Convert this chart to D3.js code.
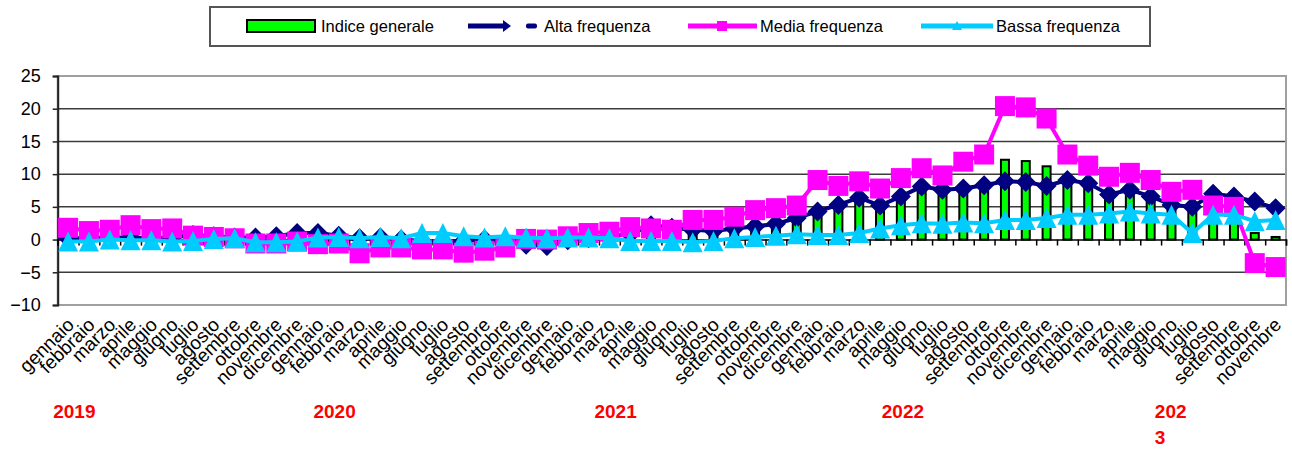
<!DOCTYPE html>
<html>
<head>
<meta charset="utf-8">
<script src="https://cdn.jsdelivr.net/npm/d3@7"></script>
<style>
  body { margin: 0; background: #fff; }
  text { font-family: "Liberation Sans", Arial, sans-serif; }
</style>
</head>
<body>
<svg id="chart" width="1292" height="450"></svg>
<script>
// month names and years on the x axis (gennaio 2019 .. novembre 2023)
const monthNames = ["gennaio", "febbraio", "marzo", "aprile", "maggio", "giugno",
  "luglio", "agosto", "settembre", "ottobre", "novembre", "dicembre"];
const years = ["2019", "2020", "2021", "2022", "2023"];
const yearAt = [0.8, 13.3, 26.8, 40.6, 52.7]; // position of each year label, in months
const yTicks = [-10, -5, 0, 5, 10, 15, 20, 25];

const indiceGenerale = [
  1.0, 1.1, 1.0, 1.1, 0.9, 0.8, 0.5, 0.5, 0.4, 0.3, 0.2, 0.5,
  0.6, 0.3, 0.1, 0.0, -0.2, -0.2, -0.4, -0.5, -0.6, -0.3, -0.2, -0.2,
  0.4, 0.6, 0.8, 1.1, 1.3, 1.3, 1.5, 1.3, 2.0, 2.7, 3.0, 3.4,
  3.8, 5.0, 6.2, 4.6, 6.2, 8.4, 8.3, 7.2, 8.4, 12.2, 12.0, 11.2,
  9.1, 8.3, 6.7, 7.8, 6.7, 5.3, 5.0, 6.6, 6.0, 1.0, 0.4
];
const altaFrequenza = [
  0.2, 0.2, 0.3, 0.3, 0.2, 0.3, 0.7, 0.5, 0.3, 0.3, 0.5, 1.0,
  1.0, 0.6, 0.2, 0.3, 0.0, -0.2, -0.3, -0.2, 0.0, -0.3, -0.8, -1.0,
  -0.1, 0.2, 0.5, 0.8, 2.2, 1.8, 1.5, 1.3, 1.7, 2.0, 2.4, 3.3,
  4.3, 5.3, 6.4, 5.2, 6.6, 8.1, 7.6, 7.8, 8.3, 8.9, 8.8, 8.2,
  9.1, 8.6, 6.9, 7.6, 6.6, 5.3, 5.0, 7.0, 6.6, 5.8, 4.8
];
const mediaFrequenza = [
  1.8, 1.3, 1.5, 2.2, 1.6, 1.7, 0.6, 0.4, 0.2, -0.6, -0.6, -0.3,
  -0.7, -0.6, -2.1, -1.2, -1.2, -1.5, -1.5, -2.0, -1.7, -1.2, 0.1, 0.0,
  0.5, 1.0, 1.2, 1.9, 1.7, 1.5, 3.0, 3.0, 3.5, 4.5, 4.8, 5.2,
  9.1, 8.2, 8.9, 7.8, 9.4, 10.9, 9.8, 11.9, 13.0, 20.4, 20.2, 18.5,
  13.0, 11.3, 9.6, 10.2, 9.1, 7.3, 7.6, 5.2, 5.0, -3.6, -4.2
];
const bassaFrequenza = [
  -0.3, -0.3, 0.0, -0.1, -0.1, -0.3, -0.2, 0.1, 0.2, -0.4, -0.4, -0.3,
  0.3, 0.4, 0.2, 0.4, 0.2, 1.0, 1.0, 0.5, 0.3, 0.5, 0.3, 0.2,
  0.3, 0.3, 0.2, -0.2, -0.2, -0.2, -0.4, -0.2, 0.2, 0.4, 0.6, 0.8,
  0.7, 0.7, 1.0, 1.7, 2.2, 2.5, 2.4, 2.6, 2.5, 3.0, 3.0, 3.3,
  3.8, 3.8, 4.0, 4.3, 4.0, 3.8, 1.0, 3.8, 3.8, 2.8, 3.0
];

const n = indiceGenerale.length;
const labels = d3.range(n).map((i) => monthNames[i % 12]);

const svg = d3.select("#chart");
const plotLeft = 57.7, plotRight = 1286, plotTop = 76, plotBottom = 305;

const x = d3.scaleBand().domain(d3.range(n)).range([plotLeft, plotRight]);
const xEdge = d3.scaleLinear().domain([0, n]).range([plotLeft, plotRight]);
const y = d3.scaleLinear().domain([-10, 25]).range([plotBottom, plotTop]);
const bw = x.bandwidth();
const cx = (i) => x(i) + bw / 2;

// gridlines
svg.append("g")
  .selectAll("line")
  .data(yTicks.filter((t) => t > -10 && t < 25 && t !== 0))
  .enter()
  .append("line")
  .attr("x1", plotLeft).attr("x2", plotRight)
  .attr("y1", (d) => y(d)).attr("y2", (d) => y(d))
  .attr("stroke", "#3c3c3c")
  .attr("stroke-width", 1.5);

// plot border
svg.append("rect")
  .attr("x", plotLeft).attr("y", plotTop)
  .attr("width", plotRight - plotLeft).attr("height", plotBottom - plotTop)
  .attr("fill", "none")
  .attr("stroke", "#a0a0a0")
  .attr("stroke-width", 2);

// y axis
const yAxis = svg.append("g")
  .attr("transform", `translate(${plotLeft},0)`)
  .call(d3.axisLeft(y).tickValues(yTicks).tickSize(5).tickPadding(12));
yAxis.select(".domain").attr("stroke", "#222").attr("stroke-width", 2);
yAxis.selectAll(".tick line").attr("stroke", "#222").attr("stroke-width", 1.5);
yAxis.selectAll(".tick text")
  .attr("font-size", 18)
  .attr("font-family", "Liberation Sans, Arial, sans-serif")
  .attr("fill", "#000");

// bars: Indice generale
svg.append("g")
  .selectAll("rect")
  .data(indiceGenerale)
  .enter()
  .append("rect")
  .attr("x", (d, i) => cx(i) - 4)
  .attr("width", 8)
  .attr("y", (d) => y(Math.max(0, d)))
  .attr("height", (d) => Math.abs(y(d) - y(0)))
  .attr("fill", "#00ff00")
  .attr("stroke", "#000")
  .attr("stroke-width", 2);

// zero axis with ticks between categories
const xAxis = svg.append("g")
  .attr("transform", `translate(0,${y(0)})`)
  .call(d3.axisBottom(xEdge).tickValues(d3.range(0, n + 1)).tickSize(6).tickFormat(""));
xAxis.select(".domain").attr("stroke", "#000").attr("stroke-width", 1.5);
xAxis.selectAll(".tick line").attr("stroke", "#000").attr("stroke-width", 1.5);

// month labels
svg.append("g")
  .selectAll("text")
  .data(labels)
  .enter()
  .append("text")
  .attr("transform", (d, i) => `translate(${cx(i) + 7},${326}) rotate(-45)`)
  .attr("text-anchor", "end")
  .attr("font-size", 19)
  .attr("fill", "#000")
  .text((d) => d);

// year labels
svg.append("g")
  .selectAll("text")
  .data(years)
  .enter()
  .append("text")
  .attr("x", (d, i) => xEdge(yearAt[i]))
  .attr("y", 418)
  .attr("text-anchor", (d, i) => (i < 4 ? "middle" : "start"))
  .attr("font-size", 19)
  .attr("font-weight", "bold")
  .attr("fill", "#ff0000")
  .each(function (d, i) {
    const t = d3.select(this);
    if (i < 4) {
      t.text(d);
    } else {
      t.append("tspan").text(d.slice(0, 3));
      t.append("tspan").attr("x", t.attr("x")).attr("dy", 26).text(d.slice(3));
    }
  });

// marker shapes
const diamond = "M0,-10L10,0L0,10L-10,0Z";
const square = "M-10,-10H10V10H-10Z";
const triangle = "M0,-10L10,10L-10,10Z";

const series = [
  { values: altaFrequenza, color: "#000080", shape: diamond },
  { values: mediaFrequenza, color: "#ff00ff", shape: square },
  { values: bassaFrequenza, color: "#00ccff", shape: triangle }
];

const line = d3.line().x((d, i) => cx(i)).y((d) => y(d));

series.forEach((s) => {
  const g = svg.append("g");
  g.append("path")
    .datum(s.values)
    .attr("d", line)
    .attr("fill", "none")
    .attr("stroke", s.color)
    .attr("stroke-width", 4);
  g.selectAll("path.marker")
    .data(s.values)
    .enter()
    .append("path")
    .attr("class", "marker")
    .attr("d", s.shape)
    .attr("transform", (d, i) => `translate(${cx(i)},${y(d)})`)
    .attr("fill", s.color);
});

// legend
const legend = svg.append("g");
legend.append("rect")
  .attr("x", 210).attr("y", 7)
  .attr("width", 940).attr("height", 39)
  .attr("fill", "#fff")
  .attr("stroke", "#555")
  .attr("stroke-width", 2);

const ly = 26;
legend.append("rect")
  .attr("x", 247).attr("y", ly - 6)
  .attr("width", 68).attr("height", 12)
  .attr("fill", "#00ff00").attr("stroke", "#000").attr("stroke-width", 2);
legend.append("line")
  .attr("x1", 468).attr("x2", 503).attr("y1", ly).attr("y2", ly)
  .attr("stroke", "#000080").attr("stroke-width", 5);
legend.append("path")
  .attr("d", `M503,${ly - 6}L511,${ly}L503,${ly + 6}Z`)
  .attr("fill", "#000080");
legend.append("rect")
  .attr("x", 526).attr("y", ly - 2.5).attr("width", 11).attr("height", 5).attr("rx", 2)
  .attr("fill", "#000080");
legend.append("line")
  .attr("x1", 688).attr("x2", 757).attr("y1", ly).attr("y2", ly)
  .attr("stroke", "#ff00ff").attr("stroke-width", 5);
legend.append("rect")
  .attr("x", 717).attr("y", ly - 5).attr("width", 10).attr("height", 10)
  .attr("fill", "#ff00ff");
legend.append("line")
  .attr("x1", 921).attr("x2", 993).attr("y1", ly).attr("y2", ly)
  .attr("stroke", "#00ccff").attr("stroke-width", 5);
legend.append("path")
  .attr("d", `M957,${ly - 5}L962,${ly + 4}L952,${ly + 4}Z`)
  .attr("fill", "#00ccff");

const legendTexts = [
  { x: 321, t: "Indice generale" },
  { x: 544, t: "Alta frequenza" },
  { x: 760, t: "Media frequenza" },
  { x: 996, t: "Bassa frequenza" }
];
legend.selectAll("text.lg")
  .data(legendTexts)
  .enter()
  .append("text")
  .attr("class", "lg")
  .attr("x", (d) => d.x)
  .attr("y", ly + 6)
  .attr("font-size", 16.5)
  .attr("fill", "#000")
  .text((d) => d.t);
</script>
</body>
</html>
